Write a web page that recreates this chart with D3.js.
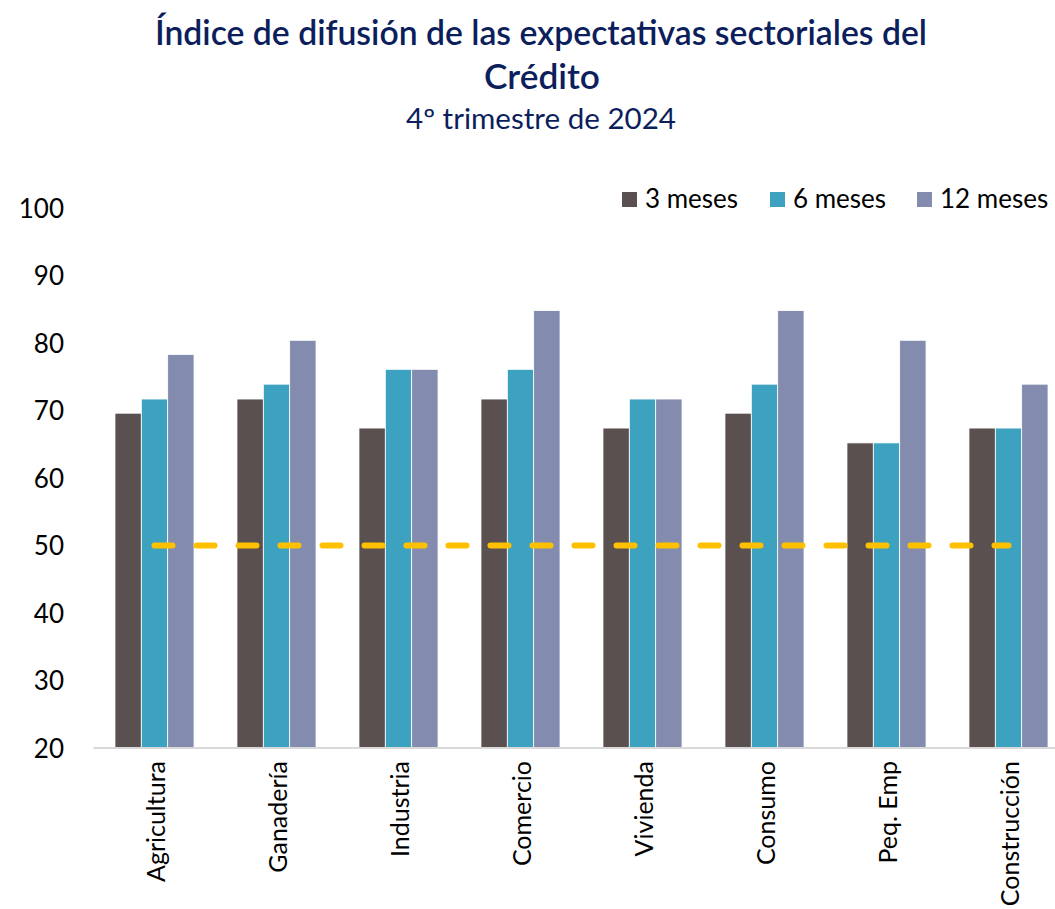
<!DOCTYPE html>
<html>
<head>
<meta charset="utf-8">
<script src="https://cdn.jsdelivr.net/npm/d3@7"></script>
<style>
  body { margin: 0; background: #fff; }
  svg { display: block; font-family: Lato, "Open Sans", sans-serif; }
</style>
</head>
<body>
<svg id="chart" width="1055" height="909"></svg>
<script>
// Sectors and diffusion index by horizon
const categories = ["Agricultura", "Ganadería", "Industria", "Comercio", "Vivienda", "Consumo", "Peq. Emp", "Construcción"];
const series = ["3 meses", "6 meses", "12 meses"];
const values3m  = [69.6, 71.7, 67.4, 71.7, 67.4, 69.6, 65.2, 67.4];
const values6m  = [71.7, 73.9, 76.1, 76.1, 71.7, 73.9, 65.2, 67.4];
const values12m = [78.3, 80.4, 76.1, 84.8, 71.7, 84.8, 80.4, 73.9];
const reference = [50, 50, 50, 50, 50, 50, 50, 50];
const yTicks = [20, 30, 40, 50, 60, 70, 80, 90, 100];
const colors = ["#5a504f", "#3ca2c0", "#838cae"];

const allValues = [values3m, values6m, values12m];

const svg = d3.select("#chart");
const width = 1055, height = 909;
const plotLeft = 93.5, plotRight = 1069.5, plotTop = 208, plotBottom = 748;

const x = d3.scaleBand().domain(categories).range([plotLeft, plotRight]).paddingInner(0).paddingOuter(0);
const inner = x.bandwidth() * 0.648;
const xs = d3.scaleBand().domain(series).range([0, inner]);
const y = d3.scaleLinear().domain([20, 100]).range([plotBottom, plotTop]);

// Title block
const navy = "#0c1f5c";
svg.append("text").attr("x", 541).attr("y", 45).attr("text-anchor", "middle")
  .attr("fill", navy).attr("font-size", 34).attr("font-weight", 600)
  .attr("textLength", 772).attr("lengthAdjust", "spacingAndGlyphs")
  .text("Índice de difusión de las expectativas sectoriales del");
svg.append("text").attr("x", 542).attr("y", 89).attr("text-anchor", "middle")
  .attr("fill", navy).attr("font-size", 34).attr("font-weight", 600)
  .attr("textLength", 116).attr("lengthAdjust", "spacingAndGlyphs")
  .text("Crédito");
svg.append("text").attr("x", 541).attr("y", 129).attr("text-anchor", "middle")
  .attr("fill", navy).attr("font-size", 28)
  .attr("textLength", 270).attr("lengthAdjust", "spacingAndGlyphs")
  .text("4º trimestre de 2024");

// Bars
const groups = svg.append("g").selectAll("g").data(categories).join("g")
  .attr("transform", d => `translate(${x(d) + (x.bandwidth() - inner) / 2},0)`);

series.forEach((s, si) => {
  groups.append("rect")
    .attr("x", xs(s))
    .attr("width", xs.bandwidth())
    .attr("y", (d, i) => y(allValues[si][i]))
    .attr("height", (d, i) => y(20) - y(allValues[si][i]))
    .attr("fill", colors[si])
    .attr("stroke", "#ffffff").attr("stroke-width", 0.8);
});

// Category axis baseline
svg.append("line")
  .attr("x1", plotLeft).attr("x2", width)
  .attr("y1", y(20)).attr("y2", y(20))
  .attr("stroke", "#d9d9d9").attr("stroke-width", 2);

// Y axis labels
const yAxis = d3.axisLeft(y).tickValues(yTicks).tickSize(0).tickPadding(0);
const gy = svg.append("g").attr("transform", "translate(64,0)").call(yAxis);
gy.select(".domain").remove();
gy.selectAll("text").attr("font-size", 26).attr("fill", "#000").attr("font-family", "Lato, sans-serif").attr("dy", "0.35em");

// Rotated category labels
svg.append("g").selectAll("text").data(categories).join("text")
  .attr("transform", d => `translate(${x(d) + x.bandwidth() / 2 + 10},${y(20) + 13}) rotate(-90)`)
  .attr("text-anchor", "end")
  .attr("font-size", 25).attr("fill", "#000")
  .text(d => d);

// Reference line at 50
const line = d3.line()
  .x((d, i) => x(categories[i]) + x.bandwidth() / 2)
  .y(d => y(d));
svg.append("path").datum(reference)
  .attr("d", line)
  .attr("fill", "none").attr("stroke", "#ffc000")
  .attr("stroke-width", 6).attr("stroke-linecap", "round")
  .attr("stroke-dasharray", "18 24");

// Legend
const legendX = [622, 770, 917];
const lg = svg.append("g").selectAll("g").data(series).join("g")
  .attr("transform", (d, i) => `translate(${legendX[i]},192)`);
lg.append("rect").attr("width", 15).attr("height", 15).attr("fill", (d, i) => colors[i]);
lg.append("text").attr("x", 23).attr("y", 16).attr("font-size", 26).attr("fill", "#000").text(d => d);
</script>
</body>
</html>
